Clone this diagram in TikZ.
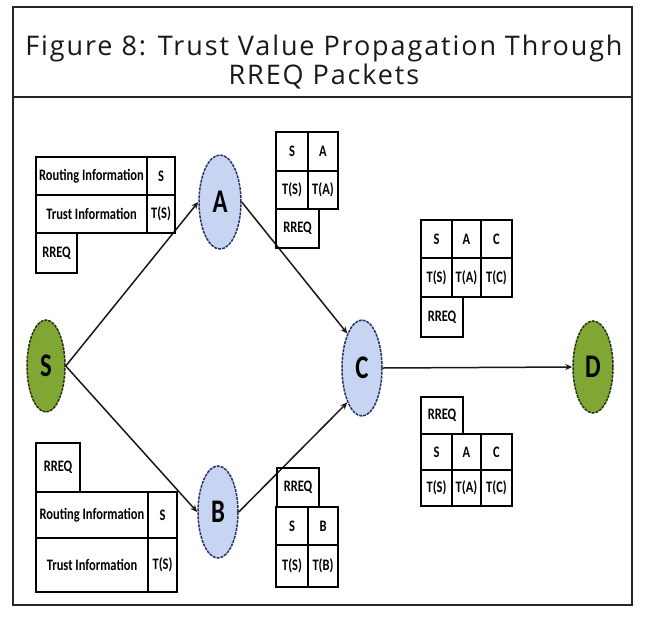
\documentclass[tikz,border=0pt]{standalone}
\usepackage{fontspec}
\usepackage{graphicx}
\setmainfont{Carlito}
\newfontfamily\titlefont[LetterSpace=7.0]{Open Sans}
\usetikzlibrary{arrows.meta,shapes.geometric}
\definecolor{gfill}{RGB}{128,166,52}
\definecolor{gline}{RGB}{38,52,16}
\definecolor{bfill}{RGB}{200,213,242}
\definecolor{bline}{RGB}{40,52,102}
\newcommand{\cnd}[1]{\scalebox{0.78}[1]{#1}}
\newcommand{\nletter}[1]{\scalebox{0.75}[1]{#1}}
\newcommand{\tcell}[6]{\node[cellbox, minimum width={(#3-#2)*1pt}, minimum height={(#5-#4)*1pt}] (#1) at ({(#2+#3)/2},{(#4+#5)/2}) {\cnd{#6}};}
\begin{document}
\begin{tikzpicture}[x=1pt,y=-1pt,
  cellbox/.style={draw=black, line width=1.4pt, inner sep=0pt, font=\bfseries\fontsize{16}{16}\selectfont},
  gnode/.style={ellipse, draw=gline, fill=gfill, line width=1.5pt, dash pattern=on 3pt off 1pt, inner sep=0pt, font=\bfseries\fontsize{33}{33}\selectfont},
  bnode/.style={ellipse, draw=bline, fill=bfill, line width=1.5pt, dash pattern=on 3pt off 1pt, inner sep=0pt, font=\bfseries\fontsize{33}{33}\selectfont},
  arr/.style={draw=black!90, line width=1.5pt, -{Stealth[length=7pt,width=6pt]}},
  frame/.style={draw=black!85, line width=1.3pt}]
\useasboundingbox (0,0) rectangle (646,619);
\fill[white] (0,0) rectangle (646,619);
% frame and title
\draw[frame] (13,7) rectangle (632,605);
\draw[frame] (13,97) -- (632,97);
\node[align=center, font=\titlefont\fontsize{27}{29}\selectfont, text=black!90] (title) at (324,62) {Figure 8: Trust Value Propagation Through\\RREQ Packets};
% nodes
\node[gnode, minimum width=38pt, minimum height=92pt] (S) at (46,366) {\nletter{S}};
\node[bnode, minimum width=42pt, minimum height=94pt] (A) at (220,202) {\nletter{A}};
\node[bnode, minimum width=40pt, minimum height=92pt] (B) at (218,512) {\nletter{B}};
\node[bnode, minimum width=40pt, minimum height=96pt] (C) at (362,368) {\nletter{C}};
\node[gnode, minimum width=40pt, minimum height=92pt] (D) at (593,367) {\nletter{D}};
% connectors
\draw[arr] (S.east) -- (A.west);
\draw[arr] (S.east) -- (B.west);
\draw[arr] (A.east) -- (C.north west);
\draw[arr] (B.east) -- (C.south west);
\draw[arr] (C.east) -- (D.west);
% table 1 (top left)
\tcell{t1a}{36}{147}{157}{195}{Routing Information}
\tcell{t1b}{147}{175}{157}{195}{S}
\tcell{t1c}{36}{147}{195}{233}{Trust Information}
\tcell{t1d}{147}{175}{195}{233}{T(S)}
\tcell{t1e}{36}{77}{233}{273}{RREQ}
% table 2 (near A)
\tcell{t2a}{276}{308}{132}{171}{S}
\tcell{t2b}{308}{338}{132}{171}{A}
\tcell{t2c}{276}{308}{171}{209}{T(S)}
\tcell{t2d}{308}{338}{171}{209}{T(A)}
\tcell{t2e}{276}{319}{209}{248}{RREQ}
% table 3 (upper right)
\tcell{t3a}{421}{452}{220}{258}{S}
\tcell{t3b}{452}{481}{220}{258}{A}
\tcell{t3c}{481}{512}{220}{258}{C}
\tcell{t3d}{421}{452}{258}{297}{T(S)}
\tcell{t3e}{452}{481}{258}{297}{T(A)}
\tcell{t3f}{481}{512}{258}{297}{T(C)}
\tcell{t3g}{421}{463}{297}{337}{RREQ}
% table 4 (lower right)
\tcell{t4g}{421}{463}{397}{434}{RREQ}
\tcell{t4a}{421}{452}{434}{470}{S}
\tcell{t4b}{452}{481}{434}{470}{A}
\tcell{t4c}{481}{512}{434}{470}{C}
\tcell{t4d}{421}{452}{470}{506}{T(S)}
\tcell{t4e}{452}{481}{470}{506}{T(A)}
\tcell{t4f}{481}{512}{470}{506}{T(C)}
% table 5 (bottom left)
\tcell{t5e}{36}{80}{443}{492}{RREQ}
\tcell{t5a}{36}{148}{492}{538}{Routing Information}
\tcell{t5b}{148}{177}{492}{538}{S}
\tcell{t5c}{36}{148}{538}{592}{Trust Information}
\tcell{t5d}{148}{177}{538}{592}{T(S)}
% table 6 (near B)
\tcell{t6e}{277}{319}{468}{507}{RREQ}
\tcell{t6a}{276}{308}{507}{545}{S}
\tcell{t6b}{308}{338}{507}{545}{B}
\tcell{t6c}{276}{308}{545}{587}{T(S)}
\tcell{t6d}{308}{338}{545}{587}{T(B)}
\end{tikzpicture}
\end{document}
